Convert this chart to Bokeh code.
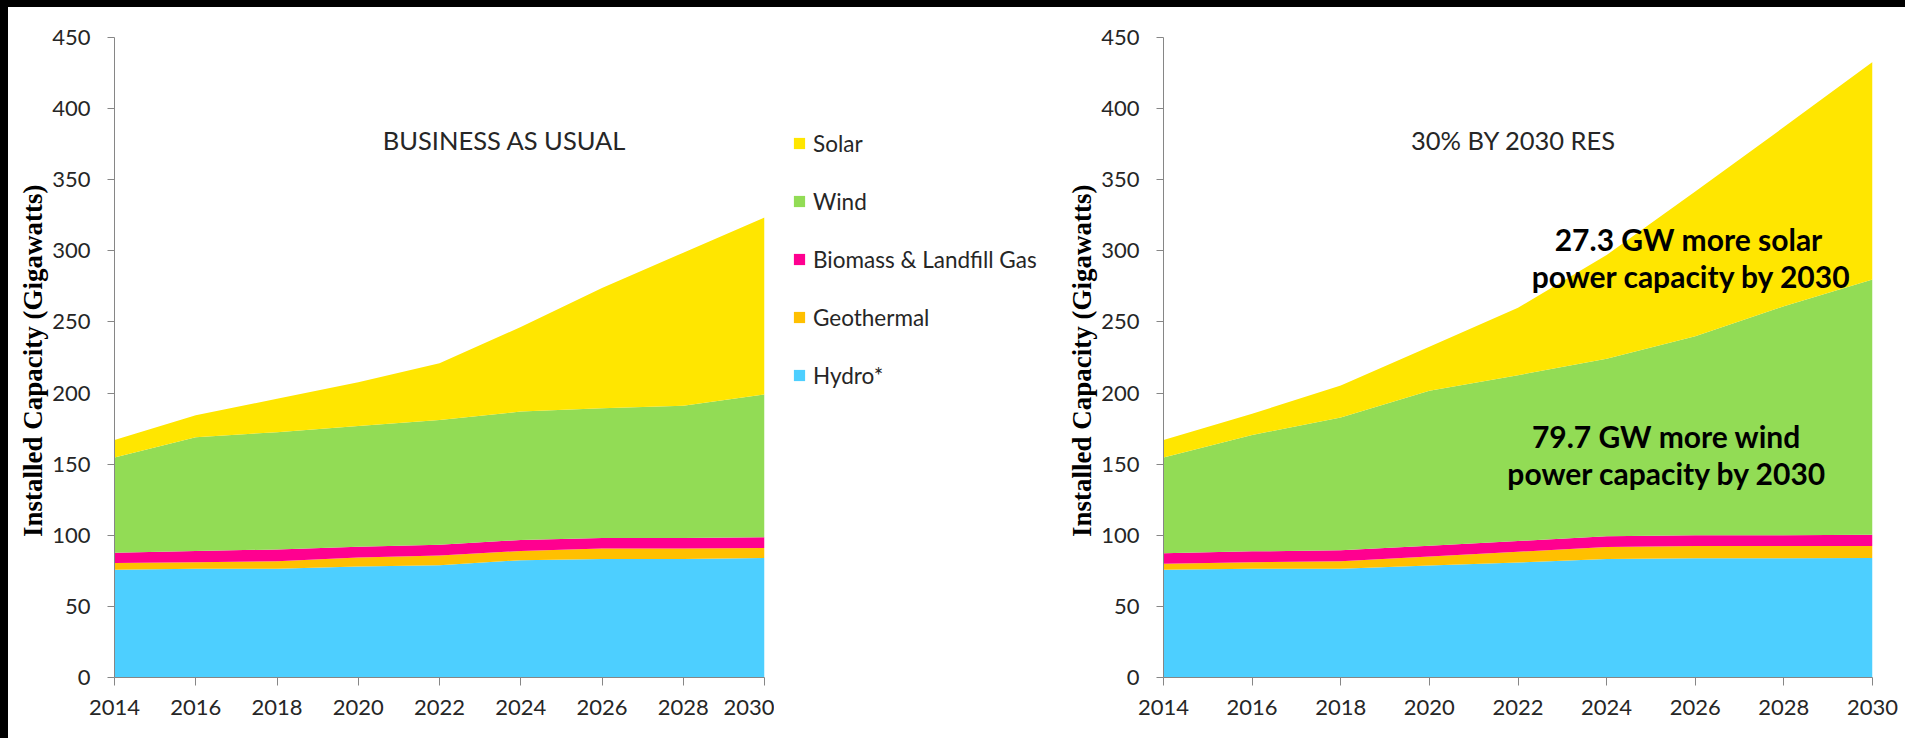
from bokeh.plotting import figure
from bokeh.models import ColumnDataSource, Range1d, FixedTicker, Legend, LegendItem, Label, Spacer
from bokeh.layouts import row, column
from bokeh.embed import file_html
from bokeh.resources import INLINE

years = [2014, 2016, 2018, 2020, 2022, 2024, 2026, 2028, 2030]
y_ticks = [0, 50, 100, 150, 200, 250, 300, 350, 400, 450]
stack_keys = ["hydro", "geo", "bio", "wind", "solar"]
series_names = ["Hydro*", "Geothermal", "Biomass & Landfill Gas", "Wind", "Solar"]
colors = ["#4DCFFF", "#FFC000", "#FF0090", "#92DC55", "#FFE600"]

# Business as usual (GW, per source)
bau_hydro = [75.8, 76.5, 76.5, 78.0, 79.0, 82.5, 83.4, 83.4, 84.0]
bau_geo = [4.7, 4.5, 5.3, 6.4, 6.8, 6.5, 7.3, 7.3, 7.0]
bau_bio = [7.2, 8.0, 8.2, 7.6, 7.6, 7.7, 7.3, 7.3, 7.7]
bau_wind = [66.9, 79.9, 82.5, 84.8, 87.6, 90.3, 91.4, 93.0, 100.3]
bau_solar = [12.4, 15.5, 23.5, 30.8, 39.9, 59.4, 84.4, 107.7, 124.5]

# 30% by 2030 RES (GW, per source)
res_hydro = [75.8, 76.5, 76.5, 78.8, 80.8, 83.4, 83.8, 83.8, 84.0]
res_geo = [4.2, 4.5, 5.3, 6.2, 7.6, 8.3, 8.6, 8.6, 8.4]
res_bio = [7.4, 7.7, 7.6, 7.7, 7.6, 7.6, 7.6, 7.6, 7.9]
res_wind = [67.2, 81.8, 93.4, 109.0, 116.6, 124.9, 140.0, 161.0, 179.5]
res_solar = [12.4, 14.9, 22.5, 30.8, 47.4, 72.8, 101.7, 126.0, 153.0]

FONT = "Lato"
TXT = "#262626"
AX = "#868686"

bau = dict(hydro=bau_hydro, geo=bau_geo, bio=bau_bio, wind=bau_wind, solar=bau_solar)
res = dict(hydro=res_hydro, geo=res_geo, bio=res_bio, wind=res_wind, solar=res_solar)


def make_fig(width, bl, br, data, title, title_x):
    p = figure(width=width, height=731, x_range=Range1d(2014, 2030), y_range=Range1d(0, 450),
               output_backend="svg", toolbar_location=None,
               min_border_left=bl, min_border_right=br, min_border_top=30, min_border_bottom=61)
    p.outline_line_color = None
    p.xgrid.visible = False
    p.ygrid.visible = False
    p.background_fill_color = "white"
    p.border_fill_color = "white"
    src = ColumnDataSource(dict(year=years, **data))
    rs = p.varea_stack(stackers=stack_keys, x="year", color=colors, source=src)

    p.xaxis.ticker = FixedTicker(ticks=years)
    p.yaxis.ticker = FixedTicker(ticks=y_ticks)
    for ax in (p.xaxis[0], p.yaxis[0]):
        ax.axis_line_color = AX
        ax.major_tick_line_color = AX
        ax.minor_tick_line_color = None
        ax.major_tick_in = 0
        ax.major_label_text_font = FONT
        ax.major_label_text_font_size = "22px"
        ax.major_label_text_color = TXT
    p.yaxis.major_tick_out = 7
    p.xaxis.major_tick_out = 8
    p.yaxis.major_label_standoff = 17
    p.xaxis.major_label_standoff = 14
    p.yaxis.axis_label = "Installed  Capacity (Gigawatts)"
    p.yaxis.axis_label_text_font = "Liberation Serif"
    p.yaxis.axis_label_text_font_style = "bold"
    p.yaxis.axis_label_text_font_size = "27px"
    p.yaxis.axis_label_text_color = "black"
    p.yaxis.axis_label_standoff = 1

    p.add_layout(Label(x=title_x, y=378, text=title, text_align="center", text_baseline="middle",
                       text_font=FONT, text_font_size="25.5px", text_color=TXT))
    return p, rs


# left chart: page x 8..774 (frame 114..764)
p1, rs1 = make_fig(766, 106, 10, bau, "BUSINESS AS USUAL", 2023.6)

# legend panel: page x 774..1050
pl = figure(width=276, height=731, x_range=Range1d(0, 1), y_range=Range1d(0, 1),
            output_backend="svg", toolbar_location=None,
            x_axis_location=None, y_axis_location=None,
            min_border=0, min_border_left=0, min_border_right=0, min_border_top=0, min_border_bottom=0)
pl.outline_line_color = None
pl.xgrid.visible = False
pl.ygrid.visible = False
pl.border_fill_color = "white"
lsrc = ColumnDataSource(dict(year=years, **bau))
rl = pl.varea_stack(stackers=stack_keys, x="year", color=colors, source=lsrc)
items = [LegendItem(label=series_names[i], renderers=[rl[i]]) for i in [4, 3, 2, 1, 0]]
legend = Legend(items=items, location=(18, 287), orientation="vertical",
                glyph_width=14, glyph_height=14, label_height=30, spacing=28,
                label_standoff=7, padding=0, margin=0,
                label_text_font=FONT, label_text_font_size="22.5px", label_text_color=TXT,
                background_fill_alpha=0, border_line_color=None)
pl.add_layout(legend, "center")

# right chart: page x 1050..1905 (frame 1163..1872)
p2, rs2 = make_fig(855, 113, 33, res, "30% BY 2030 RES", 2021.9)
notes = [("27.3 GW more solar", 2025.85, 308.0), ("power capacity by 2030", 2025.92, 282.0),
         ("79.7 GW more wind", 2025.35, 169.5), ("power capacity by 2030", 2025.37, 143.5)]
for t, x, y in notes:
    p2.add_layout(Label(x=x, y=y, text=t, text_align="center", text_baseline="middle",
                        text_font=FONT, text_font_style="bold", text_font_size="30px",
                        text_color="black"))

top_band = Spacer(width=1905, height=7, styles={"background-color": "black"})
left_band = Spacer(width=8, height=731, styles={"background-color": "black"})
layout = column(top_band, row(left_band, p1, pl, p2))

open("out.html", "w").write(file_html(layout, INLINE))
